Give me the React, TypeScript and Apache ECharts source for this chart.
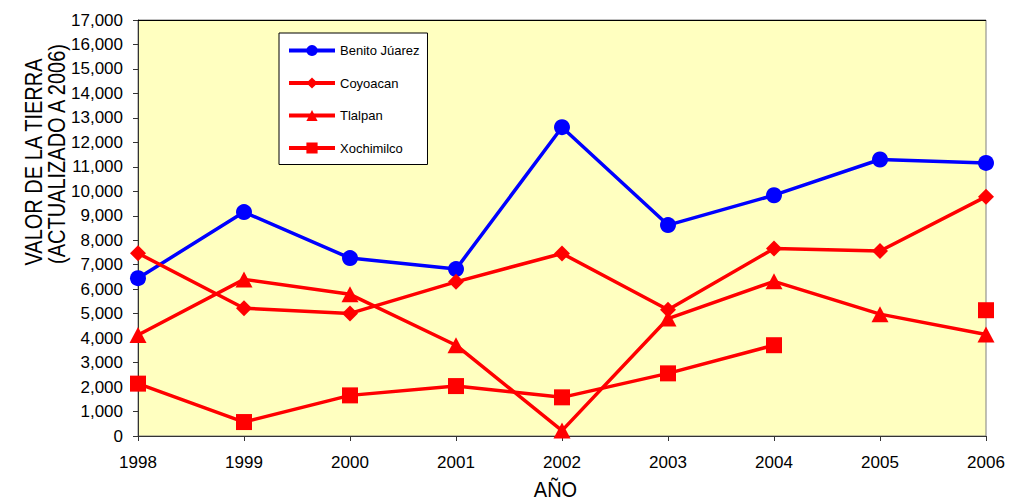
import React, { useEffect, useRef } from "react";
import * as echarts from "echarts";

// Land value by borough, in thousands, updated to 2006
const years = ["1998", "1999", "2000", "2001", "2002", "2003", "2004", "2005", "2006"];
const benitoJuarez = [6450, 9150, 7270, 6820, 12620, 8620, 9840, 11300, 11160];
const coyoacan = [7470, 5220, 5010, 6300, 7460, 5160, 7660, 7560, 9780];
const tlalpan = [4130, 6400, 5790, 3710, 220, 4800, 6320, 4980, 4150];
const xochimilco = [2140, 570, 1660, 2040, 1580, 2560, 3710, null, 5140];

const seriesNames = ["Benito Júarez", "Coyoacan", "Tlalpan", "Xochimilco"];
const yTitleLines = ["VALOR DE LA TIERRA", "(ACTUALIZADO A 2006)"];
const xTitle = "AÑO";

const FONT = "'Liberation Sans', Arial, sans-serif";

export default function App() {
  const ref = useRef<HTMLDivElement>(null);

  useEffect(() => {
    if (!ref.current) return;
    const chart = echarts.init(ref.current, undefined, { renderer: "svg" });

    const mkSeries = (
      name: string,
      data: (number | null)[],
      color: string,
      symbol: string,
      symbolSize: number | number[]
    ) => ({
      name,
      type: "line",
      data,
      symbol,
      symbolSize,
      showAllSymbol: true,
      connectNulls: false,
      lineStyle: { color, width: 3.5 },
      itemStyle: { color, borderWidth: 0 },
      z: 3,
    });

    chart.setOption({
      animation: false,
      backgroundColor: "#ffffff",
      textStyle: { fontFamily: FONT },
      grid: {
        left: 138,
        right: 23,
        top: 20,
        bottom: 65,
        show: true,
        backgroundColor: "#FFFFC0",
        borderColor: "#808080",
        borderWidth: 1,
      },
      legend: {
        orient: "vertical",
        left: 279,
        top: 33,
        data: seriesNames.map((name) => ({ name, lineStyle: { width: 4 } })),
        backgroundColor: "#ffffff",
        borderColor: "#000000",
        borderWidth: 1,
        borderRadius: 0,
        padding: [11, 8, 10, 8],
        itemWidth: 46,
        itemHeight: 14,
        itemGap: 19.5,
        lineStyle: { width: 4 },
        textStyle: { fontSize: 13, color: "#000", fontFamily: FONT },
      },
      xAxis: {
        type: "category",
        data: years,
        boundaryGap: false,
        axisLine: { show: true, lineStyle: { color: "#333", width: 1 } },
        axisTick: { show: true, inside: false, length: 5, lineStyle: { color: "#333" } },
        axisLabel: { fontSize: 17, color: "#000", margin: 18, fontFamily: FONT },
        splitLine: { show: false },
      },
      yAxis: {
        type: "value",
        min: 0,
        max: 17000,
        interval: 1000,
        axisLine: { show: true, lineStyle: { color: "#333", width: 1 } },
        axisTick: { show: true, inside: false, length: 5, lineStyle: { color: "#333" } },
        axisLabel: {
          fontSize: 17,
          color: "#000",
          margin: 15,
          fontFamily: FONT,
          formatter: (v: number) => v.toLocaleString("en-US"),
        },
        splitLine: { show: false },
      },
      graphic: [
        // darker top edge of the plot frame
        {
          type: "line",
          shape: { x1: 138, y1: 20.5, x2: 986, y2: 20.5 },
          style: { stroke: "#000", lineWidth: 1 },
          z: 10,
        },
        {
          type: "text",
          x: 34,
          y: 162,
          rotation: Math.PI / 2,
          scaleY: 1.2,
          style: {
            text: yTitleLines[0],
            font: `20px ${FONT}`,
            fill: "#000",
            textAlign: "center",
            textVerticalAlign: "middle",
          },
        },
        {
          type: "text",
          x: 57,
          y: 154,
          rotation: Math.PI / 2,
          scaleY: 1.2,
          style: {
            text: yTitleLines[1],
            font: `20px ${FONT}`,
            fill: "#000",
            textAlign: "center",
            textVerticalAlign: "middle",
          },
        },
        {
          type: "text",
          x: 555.5,
          y: 489,
          scaleY: 1.12,
          style: {
            text: xTitle,
            font: `20px ${FONT}`,
            fill: "#000",
            textAlign: "center",
            textVerticalAlign: "middle",
          },
        },
      ],
      series: [
        mkSeries(seriesNames[0], benitoJuarez, "#0000FF", "circle", 16),
        mkSeries(seriesNames[1], coyoacan, "#FF0000", "diamond", 16),
        mkSeries(seriesNames[2], tlalpan, "#FF0000", "triangle", [17, 16]),
        mkSeries(seriesNames[3], xochimilco, "#FF0000", "rect", 16),
      ],
    });

    return () => chart.dispose();
  }, []);

  return (
    <div
      ref={ref}
      style={{ position: "fixed", left: 0, top: 0, width: 1009, height: 501 }}
    />
  );
}
